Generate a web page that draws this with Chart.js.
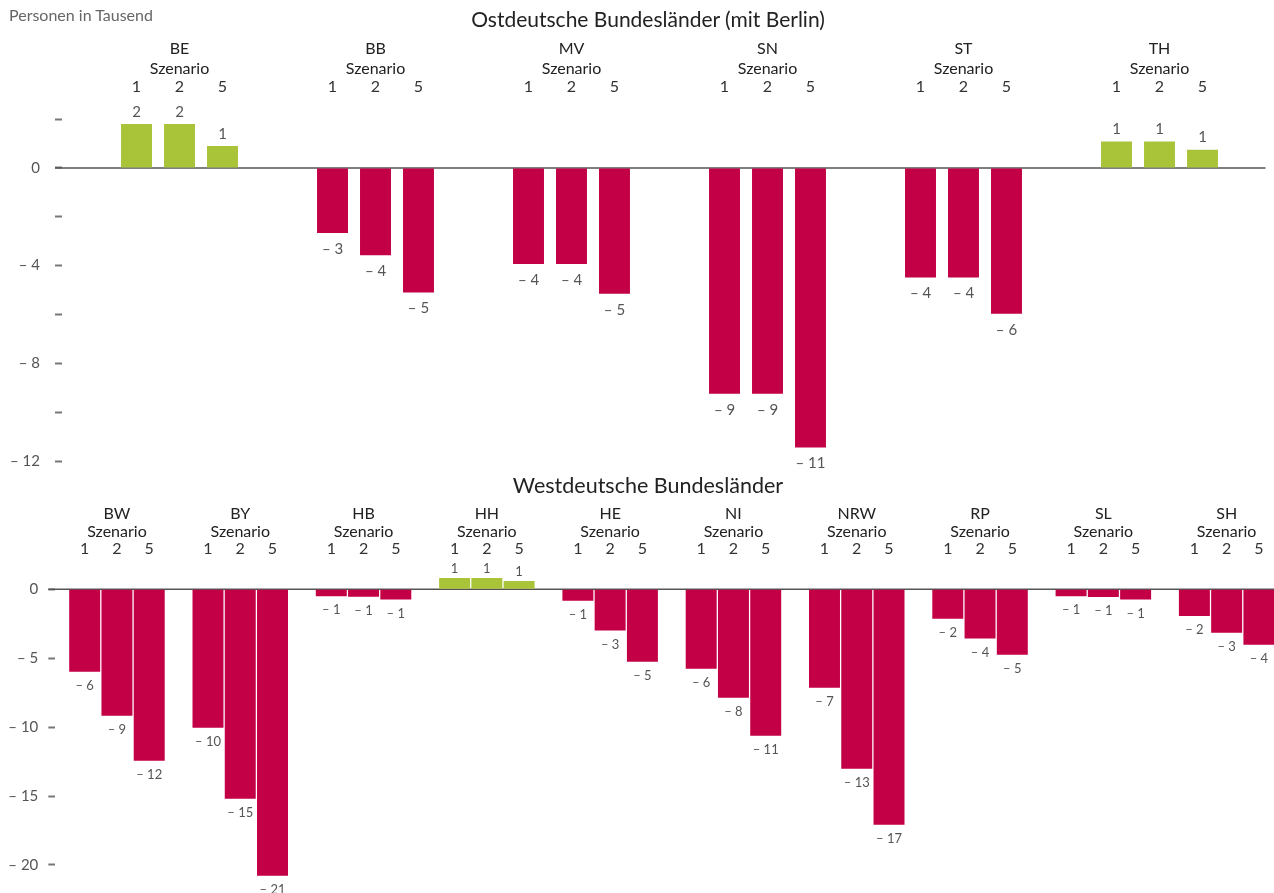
<!DOCTYPE html>
<html>
<head>
<meta charset="utf-8">
<script src="https://cdn.jsdelivr.net/npm/chart.js@4/dist/chart.umd.min.js"></script>
<style>
  html, body { margin: 0; padding: 0; background: #fff; overflow: hidden; }
  #unit { position: absolute; left: 9px; top: 5px; font: 16px Lato, sans-serif; color: #666; }
  .ttl { position: absolute; left: 648px; transform: translateX(-50%); white-space: nowrap;
         font: 21px/24px Lato, sans-serif; color: #222; }
  #eastTitle { top: 7px; }
  #westTitle { top: 473px; font-size: 21.5px; }
  #eastBox { position: absolute; left: 0; top: 0; }
  #westBox { position: absolute; left: 0; top: 468px; }
</style>
</head>
<body>
<div id="eastBox"><canvas id="eastChart" width="1274" height="472"></canvas></div>
<div id="westBox"><canvas id="westChart" width="1290" height="425"></canvas></div>
<div id="unit">Personen in Tausend</div>
<div class="ttl" id="eastTitle">Ostdeutsche Bundesländer (mit Berlin)</div>
<div class="ttl" id="westTitle">Westdeutsche Bundesländer</div>
<script>
const scenarios = ['1', '2', '5'];

const eastStates = ['BE', 'BB', 'MV', 'SN', 'ST', 'TH'];
const eastS1 = [1.8, -2.66, -3.93, -9.25, -4.49, 1.08];
const eastS2 = [1.8, -3.57, -3.93, -9.25, -4.49, 1.08];
const eastS5 = [0.9, -5.1, -5.15, -11.45, -5.97, 0.75];

const westStates = ['BW', 'BY', 'HB', 'HH', 'HE', 'NI', 'NRW', 'RP', 'SL', 'SH'];
const westS1 = [-5.98, -10.04, -0.5, 0.82, -0.83, -5.76, -7.14, -2.13, -0.5, -1.94];
const westS2 = [-9.17, -15.2, -0.55, 0.82, -3.0, -7.87, -13.02, -3.58, -0.56, -3.15];
const westS5 = [-12.44, -20.78, -0.75, 0.6, -5.25, -10.62, -17.08, -4.75, -0.75, -4.02];

const GREEN = '#a9c439';
const RED = '#c30045';

function fmt(v) {
  const r = Math.sign(v) * Math.round(Math.abs(v));
  return r < 0 ? '\u2013 ' + (-r) : String(r);
}

// zero line, from the y tick marks to the right edge
const zeroLine = {
  id: 'zeroLine',
  beforeDatasetsDraw(chart, args, opts) {
    const y = chart.scales.y;
    const py = y.getPixelForValue(0);
    const ctx = chart.ctx;
    ctx.save();
    ctx.strokeStyle = '#555';
    ctx.lineWidth = 1.5;
    ctx.beginPath();
    ctx.moveTo(y.right - 7, py);
    ctx.lineTo(chart.chartArea.right + opts.ext, py);
    ctx.stroke();
    ctx.restore();
  }
};

// scenario numbers above each bar + value labels
const barText = {
  id: 'barText',
  afterDatasetsDraw(chart, args, opts) {
    const ctx = chart.ctx;
    ctx.save();
    ctx.textAlign = 'center';
    ctx.textBaseline = 'middle';
    chart.data.datasets.forEach((ds, di) => {
      const meta = chart.getDatasetMeta(di);
      meta.data.forEach((bar, i) => {
        const v = ds.data[i];
        ctx.font = '16px Lato';
        ctx.fillStyle = '#333';
        ctx.fillText(scenarios[di], bar.x, opts.headY);
        ctx.font = opts.valueFont;
        ctx.fillStyle = '#555';
        const y = v >= 0 ? bar.y - opts.above : bar.y + opts.below;
        ctx.fillText(fmt(v), bar.x, y);
      });
    });
    ctx.restore();
  }
};

function makeDatasets(s1, s2, s5) {
  return [s1, s2, s5].map((d, k) => ({
    label: 'Szenario ' + scenarios[k],
    data: d,
    backgroundColor: c => (c.raw >= 0 ? GREEN : RED)
  }));
}

function noPad(s) {
  s.paddingTop = 0;
  s.paddingBottom = 0;
  s.paddingLeft = 0;
  s.paddingRight = 0;
}

Chart.defaults.font.family = 'Lato';

new Chart(document.getElementById('eastChart'), {
  type: 'bar',
  data: { labels: eastStates, datasets: makeDatasets(eastS1, eastS2, eastS5) },
  options: {
    responsive: false,
    animation: false,
    categoryPercentage: 0.658,
    barPercentage: 0.72,
    layout: { padding: { top: 38.2, right: 16.5, bottom: 11 } },
    plugins: {
      legend: { display: false },
      tooltip: { enabled: false },
      title: { display: false },
      zeroLine: { ext: 8 },
      barText: { headY: 87, valueFont: '15px Lato', above: 12, below: 16 }
    },
    scales: {
      x: {
        position: 'top',
        grid: { display: false, drawTicks: false },
        border: { display: false },
        ticks: {
          color: '#222',
          font: { size: 16, lineHeight: 1.25 },
          padding: 40,
          maxRotation: 0,
          autoSkip: false,
          callback: function (v) { return [this.getLabelForValue(v), 'Szenario']; }
        },
        afterFit: s => { s.height = 80.9; noPad(s); }
      },
      y: {
        position: 'left',
        weight: 1,
        min: -12,
        max: 2,
        grid: { drawOnChartArea: false, tickLength: 7, tickWidth: 2, tickColor: '#777' },
        border: { display: false },
        ticks: {
          stepSize: 2,
          color: '#555',
          font: { size: 15 },
          padding: 15,
          callback: v => (v % 4 === 0 ? fmt(v) : '')
        },
        afterFit: s => { s.width = 62; noPad(s); }
      },
      gap: {
        type: 'linear',
        position: 'left',
        weight: 0,
        grid: { display: false },
        border: { display: false },
        ticks: { display: false },
        afterFit: s => { s.width = 19.5; noPad(s); }
      }
    }
  },
  plugins: [zeroLine, barText]
});

new Chart(document.getElementById('westChart'), {
  type: 'bar',
  data: { labels: westStates, datasets: makeDatasets(westS1, westS2, westS5) },
  options: {
    responsive: false,
    animation: false,
    categoryPercentage: 0.785,
    barPercentage: 0.96,
    layout: { padding: { top: 34.8, right: 1.7, bottom: 0.5 } },
    plugins: {
      legend: { display: false },
      tooltip: { enabled: false },
      title: { display: false },
      zeroLine: { ext: 0 },
      barText: { headY: 81, valueFont: '13px Lato', above: 9, below: 14 }
    },
    scales: {
      x: {
        position: 'top',
        grid: { display: false, drawTicks: false },
        border: { display: false },
        ticks: {
          color: '#222',
          font: { size: 16, lineHeight: 1.125 },
          padding: 28,
          maxRotation: 0,
          autoSkip: false,
          callback: function (v) { return [this.getLabelForValue(v), 'Szenario']; }
        },
        afterFit: s => { s.height = 65.8; noPad(s); }
      },
      y: {
        position: 'left',
        min: -22,
        max: 1.5,
        grid: { drawOnChartArea: false, tickLength: 7, tickWidth: 2, tickColor: '#777' },
        border: { display: false },
        ticks: {
          stepSize: 5,
          color: '#555',
          font: { size: 15 },
          padding: 10,
          callback: v => fmt(v)
        },
        afterBuildTicks: s => { s.ticks = s.ticks.filter(t => t.value % 5 === 0); },
        afterFit: s => { s.width = 55.3; noPad(s); }
      }
    }
  },
  plugins: [zeroLine, barText]
});
</script>
</body>
</html>
